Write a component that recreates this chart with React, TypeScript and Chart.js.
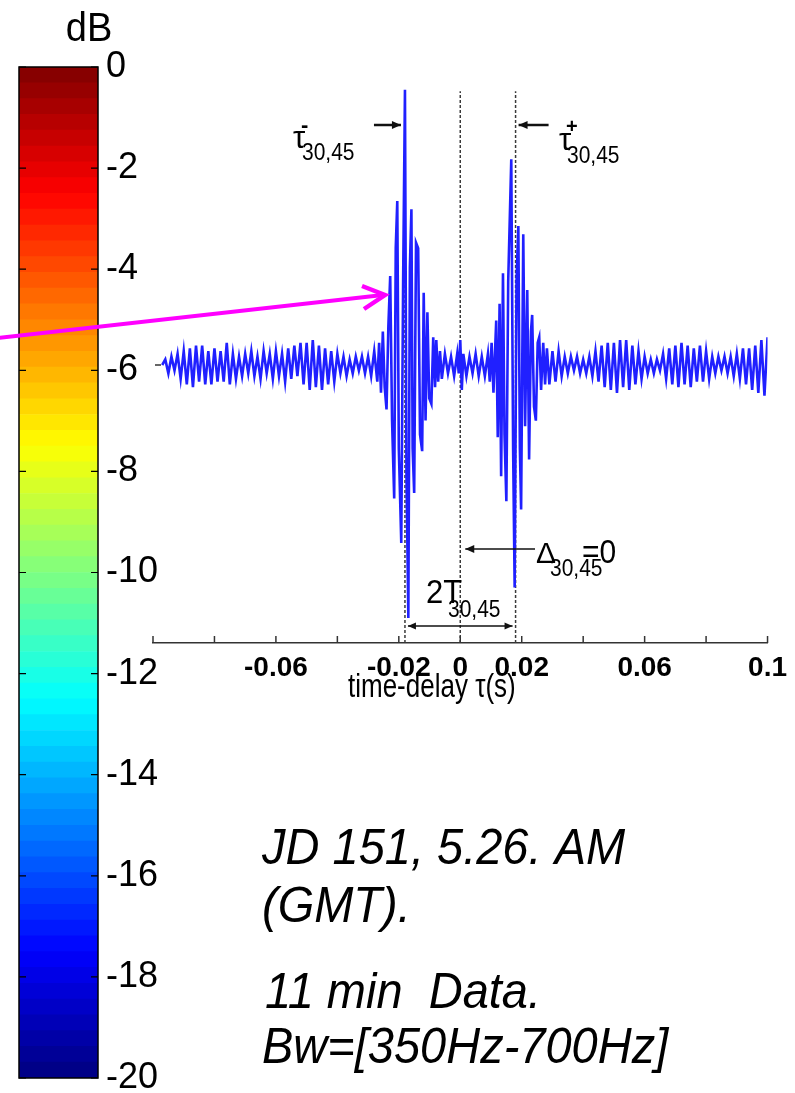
import React, { useEffect, useRef } from "react";
import { Chart, registerables } from "chart.js";

Chart.register(...registerables);

const FONT = "'Liberation Sans', Arial, Helvetica, sans-serif";

// ---------- x axis (time-delay, seconds) ----------
const xTickValues = [-0.1, -0.08, -0.06, -0.04, -0.02, 0, 0.02, 0.04, 0.06, 0.08, 0.1];
const xTickLabels = ["", "", "-0.06", "", "-0.02", "0", "0.02", "", "0.06", "", "0.1"];

// ---------- colorbar (dB) ----------
const colorbarTicks = [0, -2, -4, -6, -8, -10, -12, -14, -16, -18, -20];
const colorbarMin = -20;
const colorbarMax = 0;
const colorbarLevels = 64;

// ---------- marker lines (seconds) ----------
const markerTimes = [-0.018, 0, 0.018];

// ---------- waveform (ms, normalised amplitude) ----------
// left noise: one sample per ms starting at -97 ms
const leftNoiseStartMs = -97;
const leftNoise = [
  0.0, 0.02, -0.03, 0.03, -0.02, 0.04, -0.05, 0.05, -0.07, 0.06,
  -0.08, 0.07, -0.06, 0.07, -0.07, 0.05, -0.07, 0.06, -0.06, 0.05,
  -0.06, 0.08, -0.07, 0.04, -0.05, 0.03, -0.04, 0.04, -0.03, 0.05,
  -0.04, 0.03, -0.05, 0.05, -0.03, 0.04, -0.05, 0.05, -0.04, 0.04,
  -0.06, 0.06, -0.05, 0.07, -0.04, 0.08, -0.07, 0.08, -0.09, 0.09,
  -0.08, 0.07, -0.09, 0.06, -0.07, 0.05, -0.06, 0.04, -0.03, 0.03,
  -0.04, 0.02, -0.03, 0.03, -0.02, 0.03, -0.03, 0.03, -0.04, 0.05,
];

const burstMinusMs = [
  -27.0, -26.4, -25.8, -25.2, -24.6, -24.0, -23.4, -22.8, -22.2, -21.5,
  -21.0, -20.5, -20.0, -19.2, -18.6, -18.0, -17.5, -16.9, -16.4, -15.9,
  -15.5, -15.0, -14.4, -13.7, -13.1, -12.4, -11.9, -11.3, -10.7, -10.1,
  -9.4, -8.8, -8.2, -7.8, -7.2, -6.6, -6.0,
];
const burstMinusAmp = [
  -0.06, 0.08, -0.1, 0.12, -0.08, -0.16, 0.14, 0.32, -0.2, -0.48,
  0.42, 0.59, -0.3, -0.64, 0.3, 0.99, -0.4, -0.91, 0.35, 0.56,
  -0.3, -0.46, 0.44, 0.42, -0.25, -0.31, 0.26, -0.2, 0.19, -0.12,
  -0.14, 0.1, -0.08, 0.09, -0.06, 0.05, -0.05,
];

const middleMs = [-5, -4, -3, -2, -1, -0.5, 0, 0.5, 1, 2, 3, 4, 5, 6, 7, 8, 9];
const middleAmp = [0.04, -0.03, 0.03, -0.04, 0.04, -0.03, 0.09, -0.09, 0.04, -0.04, 0.03, -0.03, 0.04, -0.04, 0.03, -0.04, 0.04];

const burstPlusMs = [
  9.6, 10.2, 10.8, 11.7, 12.2, 12.8, 13.3, 13.9, 14.4, 15.0,
  15.6, 16.6, 17.2, 17.7, 18.3, 18.9, 19.4, 19.8, 20.5, 21.1,
  21.8, 22.4, 23.0, 23.4, 24.0, 24.6, 25.2, 25.7, 26.3, 27.0,
  27.6, 28.2,
];
const burstPlusAmp = [
  -0.06, 0.08, -0.1, 0.16, -0.26, 0.22, -0.4, 0.33, -0.25, -0.49,
  0.3, 0.74, -0.3, -0.8, 0.3, 0.5, -0.3, -0.52, 0.47, -0.22,
  0.27, -0.34, 0.12, 0.18, -0.15, -0.2, 0.08, 0.1, -0.09, 0.08,
  -0.07, 0.06,
];

// right noise: one sample per ms starting at 29 ms
const rightNoiseStartMs = 29;
const rightNoise = [
  -0.07, 0.05, -0.06, 0.05, -0.04, 0.03, -0.03, 0.03, -0.02, 0.03,
  -0.03, 0.02, -0.03, 0.03, -0.04, 0.05, -0.06, 0.07, -0.08, 0.08,
  -0.09, 0.08, -0.1, 0.09, -0.08, 0.09, -0.09, 0.07, -0.07, 0.05,
  -0.05, 0.03, -0.03, 0.02, -0.03, 0.02, -0.02, 0.04, -0.05, 0.06,
  -0.07, 0.07, -0.08, 0.08, -0.07, 0.07, -0.08, 0.06, -0.06, 0.07,
  -0.06, 0.05, -0.05, 0.03, -0.03, 0.03, -0.02, 0.03, -0.03, 0.03,
  -0.04, 0.04, -0.05, 0.06, -0.07, 0.06, -0.09, 0.07, -0.1, 0.09,
  -0.11, 0.1,
];

function buildWaveform() {
  const pts: { x: number; y: number }[] = [];
  leftNoise.forEach((v, i) => pts.push({ x: (leftNoiseStartMs + i) / 1000, y: v }));
  burstMinusMs.forEach((t, i) => pts.push({ x: t / 1000, y: burstMinusAmp[i] }));
  middleMs.forEach((t, i) => pts.push({ x: t / 1000, y: middleAmp[i] }));
  burstPlusMs.forEach((t, i) => pts.push({ x: t / 1000, y: burstPlusAmp[i] }));
  rightNoise.forEach((v, i) => pts.push({ x: (rightNoiseStartMs + i) / 1000, y: v }));
  return pts;
}

function jet(x: number): string {
  const c = (v: number) => Math.round(255 * Math.max(0, Math.min(1, v)));
  const r = c(1.5 - Math.abs(4 * x - 3));
  const g = c(1.5 - Math.abs(4 * x - 2));
  const b = c(1.5 - Math.abs(4 * x - 1));
  return `rgb(${r},${g},${b})`;
}

function txt(
  ctx: CanvasRenderingContext2D,
  s: string,
  x: number,
  y: number,
  size: number,
  o: { bold?: boolean; italic?: boolean; align?: CanvasTextAlign; sy?: number } = {}
) {
  ctx.save();
  ctx.font = `${o.italic ? "italic " : ""}${o.bold ? "bold " : ""}${size}px ${FONT}`;
  ctx.fillStyle = "#000";
  ctx.textAlign = o.align || "left";
  ctx.textBaseline = "alphabetic";
  ctx.translate(x, y);
  ctx.scale(1, o.sy || 1);
  ctx.fillText(s, 0, 0);
  ctx.restore();
}

function hArrow(
  ctx: CanvasRenderingContext2D,
  x1: number,
  x2: number,
  y: number,
  lw: number,
  head: number,
  both = false
) {
  ctx.save();
  ctx.strokeStyle = "#111";
  ctx.fillStyle = "#111";
  ctx.lineWidth = lw;
  ctx.beginPath();
  ctx.moveTo(x1, y);
  ctx.lineTo(x2, y);
  ctx.stroke();
  const drawHead = (tip: number, dir: number) => {
    ctx.beginPath();
    ctx.moveTo(tip, y);
    ctx.lineTo(tip - dir * head, y - head * 0.45);
    ctx.lineTo(tip - dir * head, y + head * 0.45);
    ctx.closePath();
    ctx.fill();
  };
  drawHead(x2, Math.sign(x2 - x1));
  if (both) drawHead(x1, Math.sign(x1 - x2));
  ctx.restore();
}

const colorbarPlugin = {
  id: "colorbarDecor",
  afterDraw(chart: any) {
    const ctx: CanvasRenderingContext2D = chart.ctx;
    const { left, right, top, bottom } = chart.chartArea;
    const ys = chart.scales.y;
    ctx.save();
    ctx.strokeStyle = "#000";
    ctx.lineWidth = 1.5;
    ctx.strokeRect(left, top, right - left, bottom - top);
    ctx.lineWidth = 1.2;
    colorbarTicks.forEach((v) => {
      const py = ys.getPixelForValue(v);
      ctx.beginPath();
      ctx.moveTo(left, py);
      ctx.lineTo(left + 7, py);
      ctx.moveTo(right, py);
      ctx.lineTo(right - 7, py);
      ctx.stroke();
    });
    ctx.restore();
    txt(ctx, "dB", 89, 41, 38, { align: "center", sy: 1.08 });
  },
};

const annotationPlugin = {
  id: "waveAnnotations",
  afterDraw(chart: any) {
    const ctx: CanvasRenderingContext2D = chart.ctx;
    const xs = chart.scales.x;
    const ys = chart.scales.y;
    const { left, bottom } = chart.chartArea;

    // inward tick marks on the time axis
    ctx.save();
    ctx.strokeStyle = "#333";
    ctx.lineWidth = 1.5;
    xTickValues.forEach((v) => {
      const px = xs.getPixelForValue(v);
      ctx.beginPath();
      ctx.moveTo(px, bottom);
      ctx.lineTo(px, bottom - 7);
      ctx.stroke();
    });
    // small zero tick on the (hidden) amplitude axis
    const y0 = ys.getPixelForValue(0);
    ctx.beginPath();
    ctx.moveTo(left + 2, y0);
    ctx.lineTo(left + 8, y0);
    ctx.stroke();
    ctx.restore();

    const xm = xs.getPixelForValue(markerTimes[0]);
    const x0 = xs.getPixelForValue(markerTimes[1]);
    const xp = xs.getPixelForValue(markerTimes[2]);

    // arrows
    hArrow(ctx, xm - 31, xm - 4, 125, 2.5, 9);
    hArrow(ctx, xp + 33, xp + 3, 125, 2.5, 9);
    hArrow(ctx, 535, x0 + 5, 549, 1.6, 9);
    hArrow(ctx, xm + 3, xp - 3, 626, 1.6, 8, true);

    // tau minus
    txt(ctx, "τ", 293, 148, 31);
    txt(ctx, "-", 301, 132, 22, { bold: true });
    txt(ctx, "30,45", 302, 160, 21, { sy: 1.1 });
    // tau plus
    txt(ctx, "τ", 559, 150, 31);
    txt(ctx, "+", 566, 133, 20, { bold: true });
    txt(ctx, "30,45", 567, 163, 21, { sy: 1.1 });
    // Delta
    txt(ctx, "Δ", 536, 563, 30);
    txt(ctx, "30,45", 550, 576, 21, { sy: 1.1 });
    txt(ctx, "=0", 582, 563, 30, { sy: 1.08 });
    // 2T
    txt(ctx, "2T", 426, 603, 31, { sy: 1.05 });
    txt(ctx, "30,45", 448, 617, 21, { sy: 1.1 });

    // axis title
    txt(ctx, "time-delay τ(s)", 348, 697, 26, { sy: 1.25 });

    // magenta pointer
    ctx.save();
    ctx.strokeStyle = "#ff00ff";
    ctx.lineWidth = 4;
    ctx.lineCap = "butt";
    ctx.beginPath();
    ctx.moveTo(-2, 338);
    ctx.lineTo(383, 295);
    ctx.stroke();
    ctx.lineWidth = 4.5;
    ctx.beginPath();
    ctx.moveTo(362, 286);
    ctx.lineTo(385, 295);
    ctx.lineTo(364, 309);
    ctx.stroke();
    ctx.restore();

    // info text
    txt(ctx, "JD 151, 5.26. AM", 262, 864, 47, { italic: true, sy: 1.05 });
    txt(ctx, "(GMT).", 262, 922, 47, { italic: true, sy: 1.05 });
    txt(ctx, "11 min  Data.", 265, 1008, 47, { italic: true, sy: 1.05 });
    txt(ctx, "Bw=[350Hz-700Hz]", 262, 1063, 47, { italic: true, sy: 1.05 });
  },
};

export default function App() {
  const cbRef = useRef<HTMLCanvasElement>(null);
  const mainRef = useRef<HTMLCanvasElement>(null);

  useEffect(() => {
    const step = (colorbarMax - colorbarMin) / colorbarLevels;
    const cbDatasets = Array.from({ length: colorbarLevels }, (_, i) => ({
      data: [[colorbarMin + i * step, colorbarMin + (i + 1) * step]],
      backgroundColor: jet((i + 0.5) / colorbarLevels),
      borderWidth: 0,
      grouped: false,
      barPercentage: 1,
      categoryPercentage: 1,
    }));

    const cb = new Chart(cbRef.current as HTMLCanvasElement, {
      type: "bar",
      data: { labels: ["dB"], datasets: cbDatasets as any },
      options: {
        animation: false,
        responsive: false,
        devicePixelRatio: 1,
        events: [],
        layout: { padding: { left: 19, top: 67, bottom: 15, right: 0 } },
        plugins: { legend: { display: false }, tooltip: { enabled: false } },
        scales: {
          x: { display: false },
          y: {
            type: "linear",
            position: "right",
            min: colorbarMin,
            max: colorbarMax,
            grid: { display: false, drawTicks: false },
            border: { display: false },
            afterBuildTicks: (s: any) => {
              s.ticks = colorbarTicks.map((v) => ({ value: v }));
            },
            afterFit: (s: any) => {
              s.width = 102;
              s.paddingTop = 0;
              s.paddingBottom = 0;
            },
            ticks: {
              padding: 8,
              color: "#000",
              font: { family: FONT, size: 36 },
              callback: (v: any) => String(v),
            },
          },
        },
      } as any,
      plugins: [colorbarPlugin],
    });

    const datasets: any[] = [
      {
        data: buildWaveform(),
        borderColor: "#2020ff",
        borderWidth: 2.6,
        pointRadius: 0,
        tension: 0,
        fill: false,
      },
      ...markerTimes.map((t) => ({
        data: [
          { x: t, y: -1 },
          { x: t, y: 0.985 },
        ],
        borderColor: "#3a3a3a",
        borderWidth: 1.5,
        borderDash: [3, 2],
        pointRadius: 0,
        fill: false,
      })),
    ];

    const main = new Chart(mainRef.current as HTMLCanvasElement, {
      type: "line",
      data: { datasets },
      options: {
        animation: false,
        responsive: false,
        devicePixelRatio: 1,
        events: [],
        layout: { padding: { left: 153, right: 27, top: 87, bottom: 410 } },
        plugins: { legend: { display: false }, tooltip: { enabled: false } },
        scales: {
          x: {
            type: "linear",
            min: -0.1,
            max: 0.1,
            grid: { display: false, drawTicks: false },
            border: { display: true, color: "#333", width: 1.5 },
            afterBuildTicks: (s: any) => {
              s.ticks = xTickValues.map((v) => ({ value: v }));
            },
            afterFit: (s: any) => {
              s.height = 40;
            },
            ticks: {
              autoSkip: false,
              maxRotation: 0,
              minRotation: 0,
              padding: 8,
              color: "#000",
              font: { family: FONT, size: 28, weight: "bold" },
              callback: (_v: any, i: number) => xTickLabels[i],
            },
          },
          y: { type: "linear", min: -1, max: 1, display: false },
        },
      } as any,
      plugins: [annotationPlugin],
    });

    return () => {
      cb.destroy();
      main.destroy();
    };
  }, []);

  return (
    <div
      style={{
        position: "absolute",
        left: 0,
        top: 0,
        width: 795,
        height: 1093,
        overflow: "hidden",
        background: "#fff",
      }}
    >
      <canvas
        ref={cbRef}
        width={200}
        height={1093}
        style={{ position: "absolute", left: 0, top: 0, width: 200, height: 1093 }}
      />
      <canvas
        ref={mainRef}
        width={795}
        height={1093}
        style={{ position: "absolute", left: 0, top: 0, width: 795, height: 1093 }}
      />
    </div>
  );
}
